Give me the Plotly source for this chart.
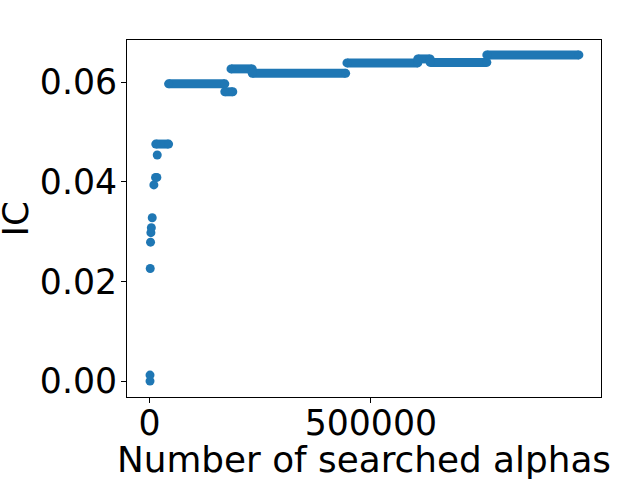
import plotly.graph_objects as go

# isolated early points
point_x = [1000, 1000, 1500, 2200, 3000, 4000, 6000, 9700, 13500, 16500, 17300]
point_ic = [0.0000, 0.0012, 0.0226, 0.0279, 0.0298, 0.0308, 0.0328, 0.0394, 0.0409, 0.0409, 0.0454]

# plateaus of the best IC found so far (start, end, value)
step_start = [14000, 43000, 170000, 184000, 232000, 446000, 606000, 634000, 762000]
step_end = [43000, 170000, 188000, 232000, 443000, 606000, 634000, 762000, 970000]
step_ic = [0.0476, 0.0597, 0.0581, 0.0627, 0.0618, 0.0639, 0.0647, 0.0640, 0.0655]

BLUE = "#1f77b4"
FONT = "DejaVu Sans"
FSIZE = 34.7

seg_x, seg_y = [], []
for s, e, v in zip(step_start, step_end, step_ic):
    seg_x += [s, e, None]
    seg_y += [v, v, None]

fig = go.Figure()
fig.add_trace(
    go.Scatter(
        x=seg_x,
        y=seg_y,
        mode="lines+markers",
        line={"color": BLUE, "width": 9},
        marker={"color": BLUE, "size": 9},
        connectgaps=False,
        showlegend=False,
    )
)
fig.add_trace(
    go.Scatter(
        x=point_x,
        y=point_ic,
        mode="markers",
        marker={"color": BLUE, "size": 9},
        showlegend=False,
    )
)

axis_style = dict(
    showgrid=False,
    zeroline=False,
    showline=True,
    linecolor="black",
    linewidth=1,
    mirror=True,
    ticks="outside",
    ticklen=5,
    tickwidth=1,
    tickcolor="black",
    tickfont={"family": FONT, "size": FSIZE, "color": "black"},
    automargin=False,
)

title_font = {"family": FONT, "size": 35.8, "color": "black"}

fig.update_layout(
    width=640,
    height=480,
    paper_bgcolor="white",
    plot_bgcolor="white",
    margin={"l": 127, "r": 39, "t": 40, "b": 83},
    xaxis=dict(
        axis_style,
        range=[-51000, 1020000],
        tickvals=[0, 500000],
        ticktext=["0", "500000"],
        ticklabelstandoff=-10,
    ),
    yaxis=dict(
        axis_style,
        range=[-0.0032, 0.0685],
        tickvals=[0.0, 0.02, 0.04, 0.06],
        ticktext=["0.00", "0.02", "0.04", "0.06"],
        ticklabelstandoff=-3,
    ),
    annotations=[
        dict(
            text="Number of searched alphas",
            xref="paper", yref="paper", x=0.5, y=0,
            xanchor="center", yanchor="middle", yshift=-62,
            showarrow=False, font=title_font,
        ),
        dict(
            text="IC",
            xref="paper", yref="paper", x=0, y=0.5,
            xanchor="center", yanchor="middle", xshift=-112,
            textangle=-90, showarrow=False, font=title_font,
        ),
    ],
)

# drop the default 8px page margin so the figure sits at the window corner
fig.write_html(
    "out.html",
    config={"displayModeBar": False},
    post_script="document.body.style.margin = '0';",
)
